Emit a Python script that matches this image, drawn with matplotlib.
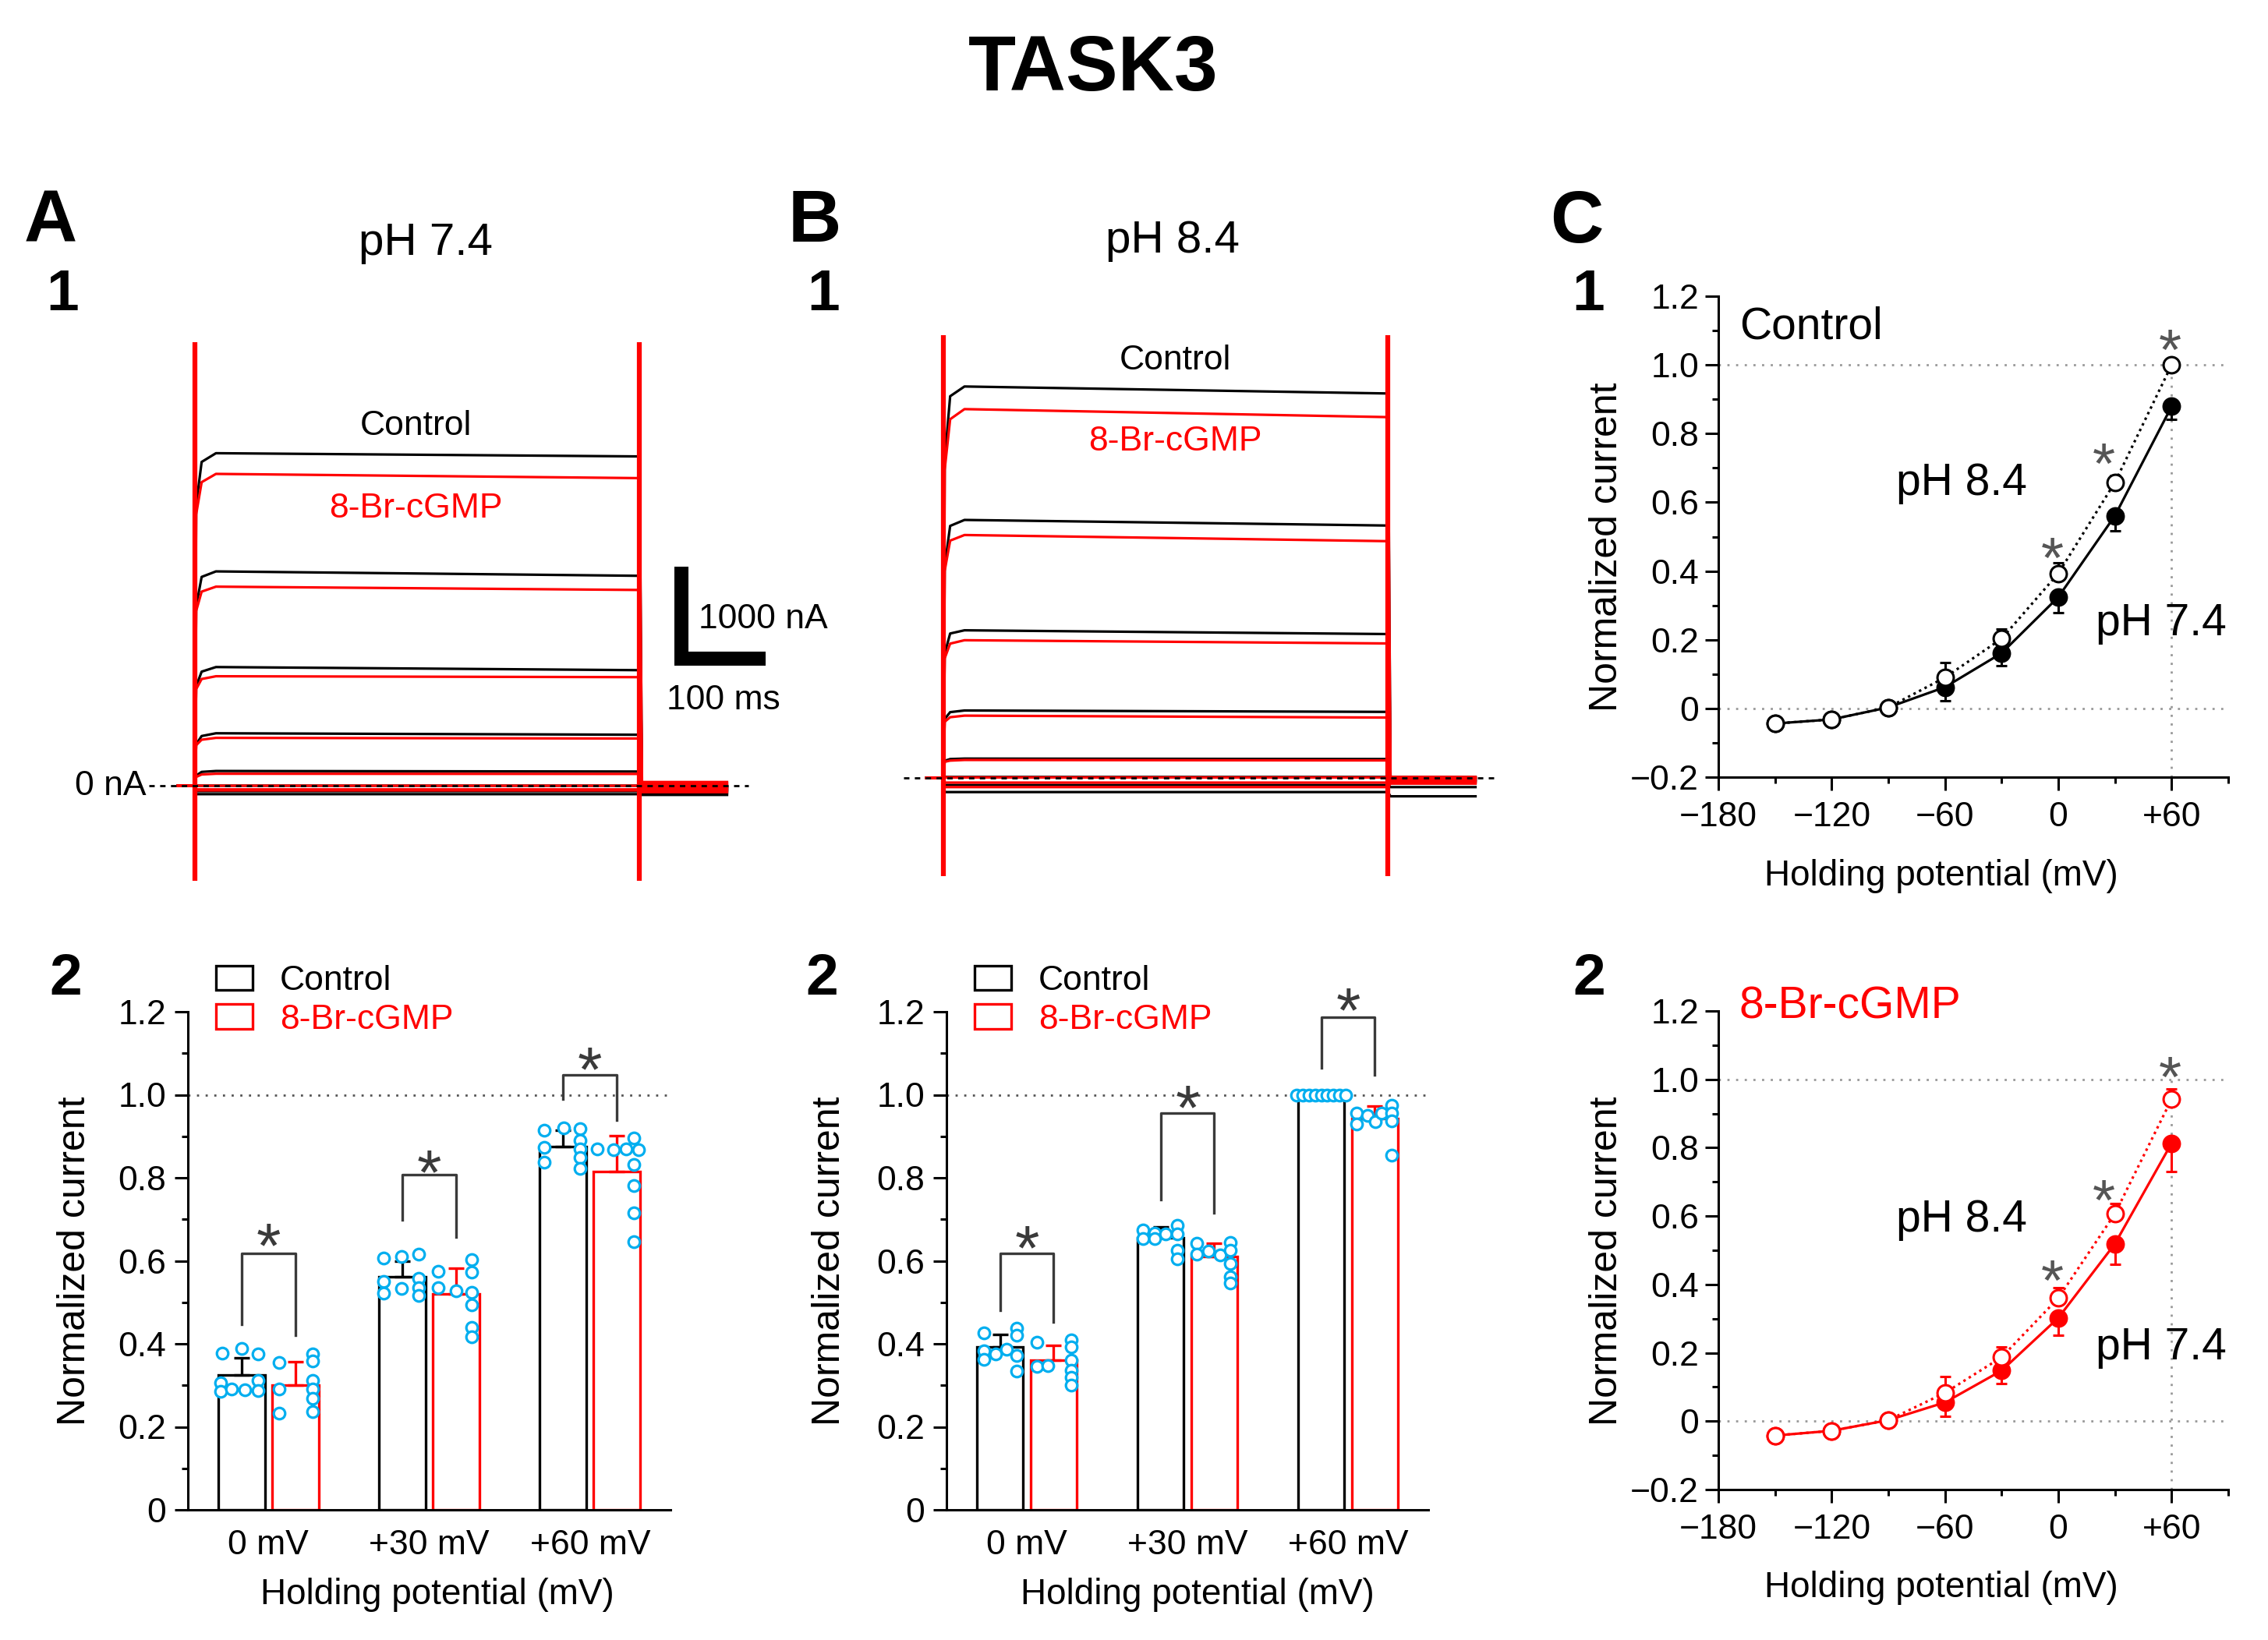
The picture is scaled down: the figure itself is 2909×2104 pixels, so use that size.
import matplotlib
matplotlib.use('Agg')
import matplotlib.pyplot as plt
from matplotlib.patches import Patch
from matplotlib.ticker import FixedLocator

plt.rcParams['font.family'] = ['Liberation Sans', 'DejaVu Sans']

# ---------------- data ----------------
# current traces (nA), one value per voltage step, from +60 down to -150 mV
pulse_ms = 528
tail_end_ms = 632
a1_black_dip = [3050, 1950, 1080, 450, 110, 0, -60, -92]
a1_black_knee = [3520, 2270, 1240, 540, 150, 0, -60, -92]
a1_black_peak = [3615, 2330, 1290, 570, 160, 0, -60, -92]
a1_black_end = [3580, 2282, 1256, 554, 154, 0, -60, -92]
a1_black_tail = [-60, -50, -40, -30, -20, -10, -80, -100]
a1_red_dip = [2950, 1900, 1050, 440, 95, 0, -40, -51]
a1_red_knee = [3300, 2110, 1160, 500, 122, 0, -40, -51]
a1_red_peak = [3390, 2164, 1190, 520, 130, 0, -40, -51]
a1_red_end = [3344, 2128, 1180, 513, 128, 0, -40, -51]
a1_red_tail = [40, 25, 10, 0, -15, -30, -50, -70]

b1_black_dip = [3450, 2300, 1350, 640, 185, 10, -77, -154]
b1_black_knee = [4150, 2740, 1570, 715, 205, 10, -77, -154]
b1_black_peak = [4256, 2805, 1605, 733, 210, 10, -77, -154]
b1_black_end = [4180, 2744, 1564, 718, 205, 10, -77, -154]
b1_black_tail = [10, 0, -10, -20, -30, -40, -100, -200]
b1_red_dip = [3350, 2250, 1300, 610, 175, 5, -51, -100]
b1_red_knee = [3900, 2580, 1460, 660, 188, 5, -51, -100]
b1_red_peak = [4010, 2641, 1497, 677, 195, 5, -51, -100]
b1_red_end = [3923, 2574, 1462, 656, 190, 5, -51, -100]
b1_red_tail = [10, 5, 0, -10, -26, -40, -55, -62]

# bar charts
bar_labels = ['0 mV', '+30 mV', '+60 mV']
a2_ctrl = [0.324, 0.561, 0.876]
a2_ctrl_err = [0.042, 0.038, 0.038]
a2_cg = [0.301, 0.521, 0.815]
a2_cg_err = [0.056, 0.061, 0.086]
a2_ctrl_dots = [[0.377, 0.388, 0.375, 0.306, 0.285, 0.291, 0.290, 0.311, 0.288],
                [0.607, 0.610, 0.616, 0.550, 0.523, 0.533, 0.557, 0.535, 0.516],
                [0.915, 0.921, 0.918, 0.873, 0.837, 0.891, 0.870, 0.849, 0.822]]
a2_ctrl_jit = [[-0.83, 0.02, 0.70, -0.89, -0.89, -0.41, 0.14, 0.70, 0.70],
               [-0.82, -0.05, 0.69, -0.82, -0.82, -0.05, 0.69, 0.69, 0.69],
               [-0.81, 0.02, 0.72, -0.81, -0.81, 0.72, 0.72, 0.72, 0.72]]
a2_cg_dots = [[0.355, 0.292, 0.233, 0.376, 0.358, 0.311, 0.292, 0.268, 0.236],
              [0.575, 0.535, 0.527, 0.602, 0.573, 0.524, 0.493, 0.440, 0.416],
              [0.869, 0.868, 0.869, 0.868, 0.895, 0.832, 0.781, 0.715, 0.646]]
a2_cg_jit = [[-0.69, -0.69, -0.69, 0.74, 0.74, 0.74, 0.74, 0.74, 0.74],
             [-0.76, -0.76, 0.0, 0.67, 0.67, 0.67, 0.67, 0.67, 0.67],
             [-0.83, -0.16, 0.40, 0.92, 0.72, 0.72, 0.72, 0.72, 0.72]]
a2_br_top = [0.618, 0.807, 1.048]
a2_br_left = [0.447, 0.698, 0.990]
a2_br_right = [0.420, 0.658, 0.939]
a2_star = [0.670, 0.847, 1.094]

b2_ctrl = [0.393, 0.656, 1.0]
b2_ctrl_err = [0.030, 0.025, 0.0]
b2_cg = [0.361, 0.610, 0.942]
b2_cg_err = [0.035, 0.032, 0.031]
b2_ctrl_dots = [[0.426, 0.438, 0.420, 0.384, 0.363, 0.375, 0.387, 0.372, 0.334],
                [0.675, 0.653, 0.667, 0.653, 0.665, 0.685, 0.665, 0.626, 0.605],
                [1.0, 1.0, 1.0, 1.0, 1.0, 1.0, 1.0, 1.0, 1.0]]
b2_ctrl_jit = [[-0.68, 0.73, 0.73, -0.68, -0.68, -0.20, 0.27, 0.73, 0.73],
               [-0.74, -0.74, -0.26, -0.26, 0.23, 0.70, 0.70, 0.70, 0.70],
               [-1.05, -0.79, -0.53, -0.26, 0.0, 0.26, 0.53, 0.79, 1.05]]
b2_cg_dots = [[0.403, 0.346, 0.348, 0.409, 0.392, 0.361, 0.337, 0.319, 0.301],
              [0.642, 0.616, 0.624, 0.614, 0.644, 0.625, 0.594, 0.562, 0.547],
              [0.955, 0.929, 0.951, 0.936, 0.955, 0.975, 0.955, 0.937, 0.855]]
b2_cg_jit = [[-0.72, -0.72, -0.26, 0.74, 0.74, 0.74, 0.74, 0.74, 0.74],
             [-0.74, -0.74, -0.26, 0.26, 0.70, 0.70, 0.70, 0.70, 0.70],
             [-0.77, -0.77, -0.30, 0.01, 0.28, 0.71, 0.71, 0.71, 0.71]]
b2_br_top = [0.618, 0.956, 1.187]
b2_br_left = [0.481, 0.748, 1.064]
b2_br_right = [0.452, 0.716, 1.048]
b2_star = [0.664, 1.002, 1.237]

# I-V curves
steps_mV = [-150, -120, -90, -60, -30, 0, 30, 60]
c1_ph84 = [-0.044, -0.032, 0.003, 0.090, 0.203, 0.393, 0.658, 1.0]
c1_ph84_err = [0, 0, 0, 0.044, 0.028, 0.030, 0.020, 0]
c1_ph74 = [-0.044, -0.032, 0.003, 0.062, 0.161, 0.324, 0.561, 0.879]
c1_ph74_err = [0, 0, 0, 0.040, 0.037, 0.045, 0.044, 0.037]
c2_ph84 = [-0.042, -0.028, 0.003, 0.083, 0.187, 0.360, 0.607, 0.942]
c2_ph84_err = [0, 0, 0, 0.048, 0.030, 0.030, 0.030, 0.030]
c2_ph74 = [-0.042, -0.028, 0.003, 0.055, 0.148, 0.302, 0.519, 0.813]
c2_ph74_err = [0, 0, 0, 0.040, 0.037, 0.050, 0.060, 0.082]
star_mV = [-3, 24, 59]
c1_star = [0.476, 0.752, 1.083]
c2_star = [0.450, 0.686, 1.046]

RED = '#FF0000'
CYAN = '#00AEEF'
STAR = '#3a3a3a'
FS = 32

W, H = 2909, 2104
fig = plt.figure(figsize=(W / 100, H / 100), dpi=100)


def add_ax(left, top, right, bottom):
    return fig.add_axes([left / W, 1 - bottom / H, (right - left) / W, (bottom - top) / H])


def ftext(x, y, s, **kw):
    kw.setdefault('ha', 'center')
    kw.setdefault('va', 'center')
    fig.text(x / W, 1 - y / H, s, **kw)


def star(ax, x, y, color=STAR, fs=58):
    ax.annotate('*', (x, y), xytext=(0, -0.3 * fs), textcoords='offset points',
                ha='center', va='center', fontsize=fs, color=color, annotation_clip=False)


# ---------------- traces ----------------
def trace_panel(ax, black, red, zero_span):
    for (dips, knees, peaks, ends, tails), col in [(black, 'black'), (red, RED)]:
        for d, k, p, e, tl in zip(dips, knees, peaks, ends, tails):
            t = [-20, 0, 1.5, 8, 25, pulse_ms, pulse_ms + 3, tail_end_ms]
            y = [0, 0, d, k, p, e, tl, tl]
            ax.plot(t, y, color=col, lw=2.3, solid_joinstyle='round')
    ax.axvline(0, color=RED, lw=4.5)
    ax.axvline(pulse_ms, color=RED, lw=4.5)
    ax.plot(zero_span, [0, 0], color='black', lw=2, ls=(0, (2.5, 2.5)), zorder=5)
    ax.axis('off')


ax_a1 = add_ax(180, 439, 975, 1130)
ax_a1.set_xlim(-64.8, 671.3)
ax_a1.set_ylim(-1034, 4822)
trace_panel(ax_a1,
            (a1_black_dip, a1_black_knee, a1_black_peak, a1_black_end, a1_black_tail),
            (a1_red_dip, a1_red_knee, a1_red_peak, a1_red_end, a1_red_tail), [-54.6, 657])
# scale bar: 1000 nA x 100 ms
ax_a1.plot([578, 578, 678], [2381, 1381, 1381], color='black', lw=13,
           solid_joinstyle='miter', solid_capstyle='butt', clip_on=False)

ax_b1 = add_ax(1150, 430, 1950, 1124)
ax_b1.set_xlim(-55.6, 685.2)
ax_b1.set_ylim(-1068, 4814)
trace_panel(ax_b1,
            (b1_black_dip, b1_black_knee, b1_black_peak, b1_black_end, b1_black_tail),
            (b1_red_dip, b1_red_knee, b1_red_peak, b1_red_end, b1_red_tail), [-47, 655])

ftext(546, 312, 'pH 7.4', fontsize=42)
ftext(533, 547, 'Control', fontsize=FS)
ftext(533, 653, '8-Br-cGMP', fontsize=FS, color=RED)
ftext(896, 795, '1000 nA', fontsize=FS, ha='left')
ftext(855, 899, '100 ms', fontsize=FS, ha='left')
ftext(188, 1008, '0 nA', fontsize=FS, ha='right')

ftext(1504, 309, 'pH 8.4', fontsize=42)
ftext(1507, 462, 'Control', fontsize=FS)
ftext(1507, 566, '8-Br-cGMP', fontsize=FS, color=RED)


# ---------------- bar charts ----------------
def bar_panel(ax, ctrl, ctrl_err, cg, cg_err, ctrl_dots, ctrl_jit, cg_dots, cg_jit,
              br_top, br_left, br_right, stars):
    x = [0, 1, 2]
    off, wid = 0.167, 0.29
    xc = [i - off for i in x]
    xr = [i + off for i in x]
    ax.axhline(1.0, color='#555555', lw=2, ls=(0, (1, 3)), zorder=0)
    ax.bar(xc, ctrl, width=wid, facecolor='white', edgecolor='black', lw=2.4, zorder=2)
    ax.bar(xr, cg, width=wid, facecolor='white', edgecolor=RED, lw=2.4, zorder=2)
    ax.errorbar(xc, ctrl, yerr=[[0] * 3, ctrl_err], fmt='none', ecolor='black',
                elinewidth=2.4, capsize=7, capthick=2.4, zorder=3)
    ax.errorbar(xr, cg, yerr=[[0] * 3, cg_err], fmt='none', ecolor=RED,
                elinewidth=2.4, capsize=7, capthick=2.4, zorder=3)
    for centers, dots, jit in [(xc, ctrl_dots, ctrl_jit), (xr, cg_dots, cg_jit)]:
        for c, vals, js in zip(centers, dots, jit):
            ax.plot([c + j * wid / 2 for j in js], vals, 'o', ms=10.5, mfc='white',
                    mec=CYAN, mew=2.3, zorder=4, clip_on=False)
    for i in x:
        ax.plot([xc[i], xc[i], xr[i], xr[i]], [br_left[i], br_top[i], br_top[i], br_right[i]],
                color=STAR, lw=2.4, clip_on=False)
        star(ax, i, stars[i])
    ax.set_xlim(-0.5, 2.5)
    ax.set_ylim(0, 1.2)
    ax.set_xticks(x, bar_labels)
    ax.yaxis.set_major_locator(FixedLocator([0, 0.2, 0.4, 0.6, 0.8, 1.0, 1.2]))
    ax.set_yticklabels(['0', '0.2', '0.4', '0.6', '0.8', '1.0', '1.2'])
    ax.yaxis.set_minor_locator(FixedLocator([0.1, 0.3, 0.5, 0.7, 0.9, 1.1]))
    ax.tick_params(axis='x', length=0, pad=18, labelsize=FS)
    ax.tick_params(axis='y', which='major', length=12, width=2.2, pad=8, labelsize=FS)
    ax.tick_params(axis='y', which='minor', length=6, width=2.2)
    for s in ['top', 'right']:
        ax.spines[s].set_visible(False)
    for s in ['left', 'bottom']:
        ax.spines[s].set_linewidth(2.2)
    ax.set_ylabel('Normalized current', fontsize=36, va='center')
    ax.set_xlabel('Holding potential (mV)', fontsize=33, va='center')
    handles = [Patch(facecolor='white', edgecolor='black', lw=2.4),
               Patch(facecolor='white', edgecolor=RED, lw=2.4)]
    ax.legend(handles, ['Control', '8-Br-cGMP'], loc='upper left', bbox_to_anchor=(0.058, 1.094),
              frameon=False, fontsize=FS, handlelength=1.05, handleheight=0.72,
              handletextpad=0.8, labelspacing=0.2, borderpad=0, borderaxespad=0,
              labelcolor=['black', RED])


ax_a2 = add_ax(241, 1298, 860, 1937)
bar_panel(ax_a2, a2_ctrl, a2_ctrl_err, a2_cg, a2_cg_err, a2_ctrl_dots, a2_ctrl_jit,
          a2_cg_dots, a2_cg_jit, a2_br_top, a2_br_left, a2_br_right, a2_star)
ax_a2.yaxis.set_label_coords(-0.234, 0.5)
ax_a2.xaxis.set_label_coords(0.517, -0.171)

ax_b2 = add_ax(1214, 1298, 1832, 1937)
bar_panel(ax_b2, b2_ctrl, b2_ctrl_err, b2_cg, b2_cg_err, b2_ctrl_dots, b2_ctrl_jit,
          b2_cg_dots, b2_cg_jit, b2_br_top, b2_br_left, b2_br_right, b2_star)
ax_b2.yaxis.set_label_coords(-0.243, 0.5)
ax_b2.xaxis.set_label_coords(0.521, -0.171)


# ---------------- I-V curves ----------------
def iv_panel(ax, ph84, ph84_err, ph74, ph74_err, col, stars, label, label_y):
    zeros = [0] * len(steps_mV)
    ax.axhline(0, color='#999999', lw=2, ls=(0, (1, 3)), zorder=0)
    ax.axhline(1.0, color='#999999', lw=2, ls=(0, (1, 3)), zorder=0)
    ax.plot([60, 60], [-0.2, 1.0], color='#999999', lw=2, ls=(0, (1, 3)), zorder=0)
    ax.errorbar(steps_mV, ph74, yerr=[ph74_err, zeros], fmt='-o', color=col, mfc=col,
                mec=col, ms=15, mew=2.2, lw=2.3, elinewidth=2.2, capsize=5, capthick=2.2, zorder=3)
    ax.errorbar(steps_mV, ph84, yerr=[zeros, ph84_err], fmt='o', ls=(0, (1, 1.5)), color=col,
                mfc='white', mec=col, ms=15, mew=2.2, lw=2.3, elinewidth=2.2, capsize=5,
                capthick=2.2, zorder=4)
    for sx, sy in zip(star_mV, stars):
        star(ax, sx, sy, color='#555555', fs=54)
    ax.text(-169, label_y, label, fontsize=41, color=col, va='center', ha='left')
    ax.set_xlim(-180, 90)
    ax.set_ylim(-0.2, 1.2)
    ax.xaxis.set_major_locator(FixedLocator([-180, -120, -60, 0, 60]))
    ax.set_xticklabels(['\u2212180', '\u2212120', '\u221260', '0', '+60'])
    ax.xaxis.set_minor_locator(FixedLocator([-150, -90, -30, 30, 90]))
    ax.yaxis.set_major_locator(FixedLocator([-0.2, 0, 0.2, 0.4, 0.6, 0.8, 1.0, 1.2]))
    ax.set_yticklabels(['\u22120.2', '0', '0.2', '0.4', '0.6', '0.8', '1.0', '1.2'])
    ax.yaxis.set_minor_locator(FixedLocator([-0.1, 0.1, 0.3, 0.5, 0.7, 0.9, 1.1]))
    ax.tick_params(which='major', length=12, width=2.2, pad=6, labelsize=FS)
    ax.tick_params(which='minor', length=6, width=2.2)
    ax.tick_params(axis='x', pad=10)
    for s in ['top', 'right']:
        ax.spines[s].set_visible(False)
    for s in ['left', 'bottom']:
        ax.spines[s].set_linewidth(2.2)
    ax.set_ylabel('Normalized current', fontsize=36, va='center')
    ax.set_xlabel('Holding potential (mV)', fontsize=33, va='center')
    ax.yaxis.set_label_coords(-0.219, 0.478)
    ax.xaxis.set_label_coords(0.437, -0.206)


ax_c1 = add_ax(2204, 380, 2858, 997)
iv_panel(ax_c1, c1_ph84, c1_ph84_err, c1_ph74, c1_ph74_err, 'black', c1_star, 'Control', 1.11)
ax_c1.text(-86, 0.655, 'pH 8.4', fontsize=41, va='center', ha='left')
ax_c1.text(20, 0.248, 'pH 7.4', fontsize=41, va='center', ha='left')

ax_c2 = add_ax(2204, 1297, 2858, 1911)
iv_panel(ax_c2, c2_ph84, c2_ph84_err, c2_ph74, c2_ph74_err, RED, c2_star, '8-Br-cGMP', 1.212)
ax_c2.text(-86, 0.589, 'pH 8.4', fontsize=41, va='center', ha='left')
ax_c2.text(20, 0.215, 'pH 7.4', fontsize=41, va='center', ha='left')

# ---------------- titles and panel letters ----------------
ftext(1402, 90, 'TASK3', fontsize=72, fontweight='bold')
for x, y, s in [(65, 286, 'A'), (1045, 286, 'B'), (2022, 286, 'C')]:
    ftext(x, y, s, fontsize=68, fontweight='bold')
for x, y in [(80, 378), (1056, 378), (2037, 378)]:
    ftext(x, y, '1', fontsize=54, fontweight='bold')
for x, y in [(84, 1256), (1054, 1256), (2038, 1256)]:
    ftext(x, y, '2', fontsize=54, fontweight='bold')

fig.savefig('out.png', dpi=100, facecolor='white')
